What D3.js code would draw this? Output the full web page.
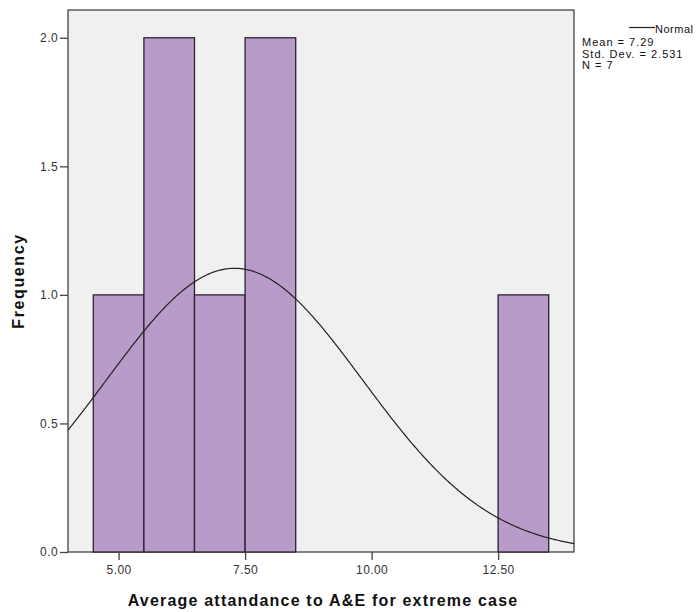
<!DOCTYPE html>
<html><head><meta charset="utf-8">
<script src="https://cdn.jsdelivr.net/npm/d3@7"></script>
<style>body{margin:0;background:#fff}svg{display:block}text{font-family:"Liberation Sans",Arial,sans-serif}</style>
</head><body>
<svg id="c" width="697" height="612"></svg>
<script>
const binStarts = [4.5, 5.5, 6.5, 7.5, 12.5];
const binCounts = [1, 2, 1, 2, 1];
const binWidth = 1;
const xTicks = [5, 7.5, 10, 12.5];
const yTicks = [0, 0.5, 1.0, 1.5, 2.0];
const statMean = 7.29, statSD = 2.531, statN = 7;
const legendLines = ["Mean = 7.29", "Std. Dev. = 2.531", "N = 7"];

const svg = d3.select("#c");
const L = 68, T = 10, R = 574, B = 552;
const x = d3.scaleLinear().domain([4, 14]).range([L, R]);
const y = d3.scaleLinear().domain([0, 2.108]).range([B, T]);

svg.append("rect").attr("x", L).attr("y", T).attr("width", R - L).attr("height", B - T)
  .attr("fill", "#f0f0f0").attr("stroke", "#444").attr("stroke-width", 1.3);

svg.append("g").selectAll("rect").data(binStarts).join("rect")
  .attr("x", d => x(d)).attr("width", d => x(d + binWidth) - x(d))
  .attr("y", (d, i) => y(binCounts[i])).attr("height", (d, i) => B - y(binCounts[i]))
  .attr("fill", "#b89bc9").attr("stroke", "#2a2230").attr("stroke-width", 1.3);

// normal curve
const pts = d3.range(0, 401).map(i => 4 + i * 10 / 400);
const dens = v => statN * binWidth / (statSD * Math.sqrt(2 * Math.PI)) * Math.exp(-0.5 * ((v - statMean) / statSD) ** 2);
svg.append("path").datum(pts)
  .attr("d", d3.line().x(d => x(d)).y(d => y(dens(d))))
  .attr("fill", "none").attr("stroke", "#222").attr("stroke-width", 1.2);

// axes
const xa = svg.append("g").attr("transform", `translate(0,${B})`)
  .call(d3.axisBottom(x).tickValues(xTicks).tickFormat(d3.format(".2f")).tickSize(8).tickSizeOuter(0));
const ya = svg.append("g").attr("transform", `translate(${L},0)`)
  .call(d3.axisLeft(y).tickValues(yTicks).tickFormat(d3.format(".1f")).tickSize(8).tickSizeOuter(0));
[xa, ya].forEach(a => {
  a.select(".domain").remove();
  a.selectAll("line").attr("stroke", "#444").attr("stroke-width", 1.3);
  a.selectAll("text").attr("fill", "#333").style("font-size", "12px").style("letter-spacing", "0.4px")
    .style("font-family", '"Liberation Sans",Arial,sans-serif');
});
xa.selectAll("text").attr("dy", null).attr("y", 22);
ya.selectAll("text").attr("x", -10);

svg.append("text").attr("x", (L + R) / 2 + 2).attr("y", 606).attr("text-anchor", "middle")
  .style("font-size", "16px").style("font-weight", "bold").style("letter-spacing", "1.2px").attr("fill", "#111")
  .text("Average attandance to A&E for extreme case");
svg.append("text").attr("transform", `translate(24,${(T + B) / 2}) rotate(-90)`).attr("text-anchor", "middle")
  .style("font-size", "16px").style("font-weight", "bold").style("letter-spacing", "1.6px").attr("fill", "#111").text("Frequency");

// legend
svg.append("line").attr("x1", 629).attr("x2", 655).attr("y1", 27.5).attr("y2", 27.5).attr("stroke", "#222").attr("stroke-width", 1.2);
svg.append("text").attr("x", 655).attr("y", 33).style("font-size", "11px").style("letter-spacing", "0.5px").attr("fill", "#111").text("Normal");
svg.append("g").selectAll("text").data(legendLines).join("text")
  .attr("x", 582).attr("y", (d, i) => 46 + i * 11.5).style("font-size", "11px").style("letter-spacing", "1px")
  .attr("fill", "#111").text(d => d);
</script>
</body></html>
